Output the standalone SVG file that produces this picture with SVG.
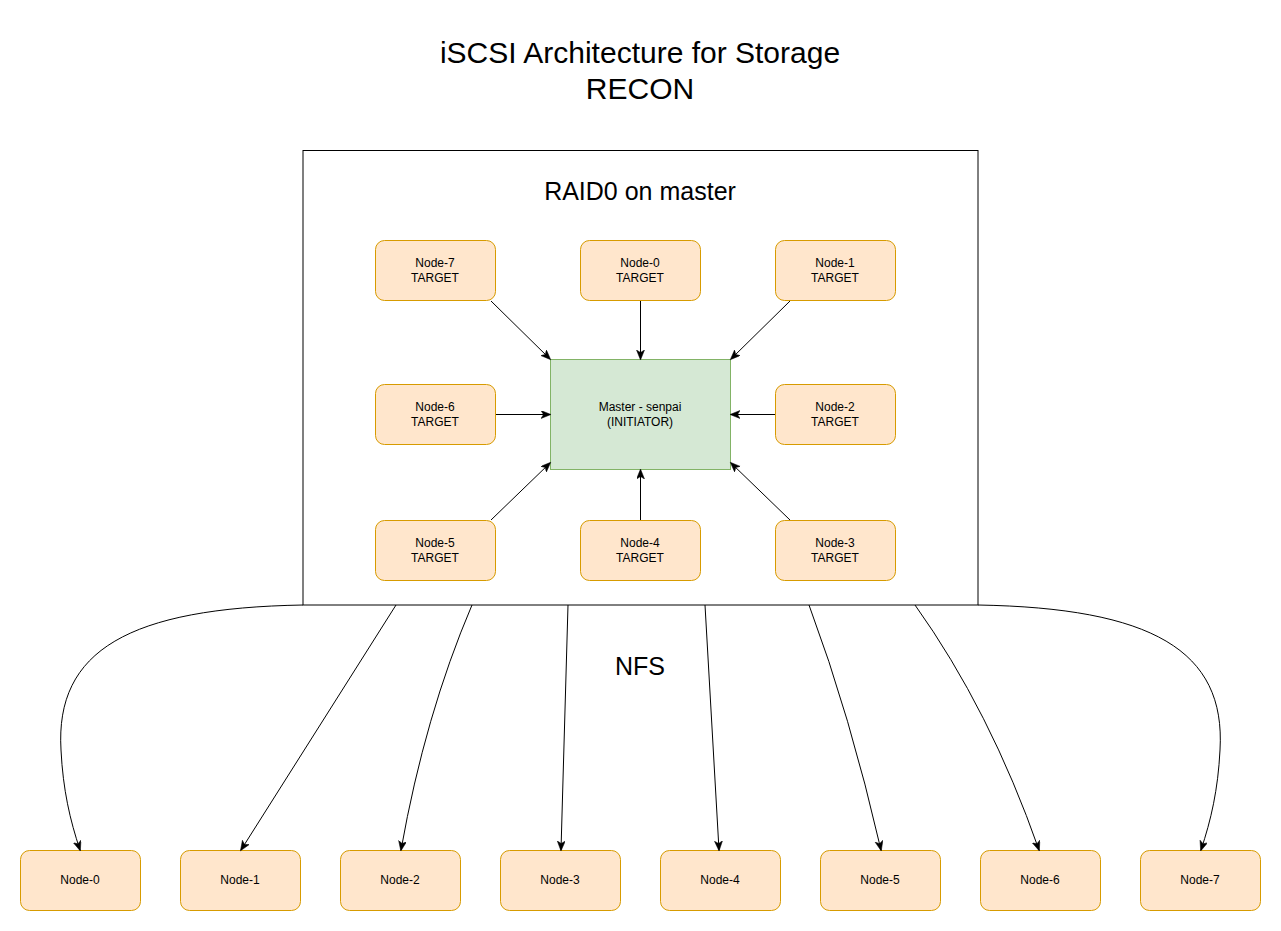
<svg xmlns="http://www.w3.org/2000/svg" width="1281" height="931" viewBox="0 0 1281 931">
<style>
.t{fill:#ffe6cc;stroke:#d79b00;stroke-width:1}
.m{fill:#d5e8d4;stroke:#82b366;stroke-width:1}
.box{fill:#fff;stroke:#000;stroke-width:1}
.lbl{font-family:"Liberation Sans",Arial,sans-serif;font-size:12px;fill:#000;text-anchor:middle}
.big{font-family:"Liberation Sans",Arial,sans-serif;fill:#000;text-anchor:middle}
.c{fill:none;stroke:#000;stroke-width:1;marker-end:url(#arr)}
</style>
<defs>
<marker id="arr" markerUnits="userSpaceOnUse" markerWidth="12" markerHeight="10" refX="9" refY="4" orient="auto">
<path d="M0,0 L10,4 L0,8 L2.5,4 Z" fill="#000" stroke="#000" stroke-width="0.5"/>
</marker>
</defs>
<rect width="1281" height="931" fill="#fff"/>
<g id="title">
<text class="big" x="640" y="63" font-size="30">iSCSI Architecture for Storage</text>
<text class="big" x="640" y="99" font-size="30">RECON</text>
</g>
<g id="raid0">
<rect class="box" x="303" y="150.5" width="675" height="454.5"/>
<text class="big" x="640" y="200" font-size="25">RAID0 on master</text>
</g>
<g id="nfs-label"><text class="big" x="640" y="675" font-size="25">NFS</text></g>
<g id="master"><rect class="m" x="550.5" y="359.5" width="180" height="110"/><text class="lbl" x="640" y="411">Master - senpai</text><text class="lbl" x="640" y="426">(INITIATOR)</text></g>
<g id="t7"><rect class="t" x="375.5" y="240.5" width="120" height="60" rx="9"/><text class="lbl" x="435" y="267">Node-7</text><text class="lbl" x="435" y="282">TARGET</text></g>
<g id="t0"><rect class="t" x="580.5" y="240.5" width="120" height="60" rx="9"/><text class="lbl" x="640" y="267">Node-0</text><text class="lbl" x="640" y="282">TARGET</text></g>
<g id="t1"><rect class="t" x="775.5" y="240.5" width="120" height="60" rx="9"/><text class="lbl" x="835" y="267">Node-1</text><text class="lbl" x="835" y="282">TARGET</text></g>
<g id="t6"><rect class="t" x="375.5" y="384.5" width="120" height="60" rx="9"/><text class="lbl" x="435" y="411">Node-6</text><text class="lbl" x="435" y="426">TARGET</text></g>
<g id="t2"><rect class="t" x="775.5" y="384.5" width="120" height="60" rx="9"/><text class="lbl" x="835" y="411">Node-2</text><text class="lbl" x="835" y="426">TARGET</text></g>
<g id="t5"><rect class="t" x="375.5" y="520.5" width="120" height="60" rx="9"/><text class="lbl" x="435" y="547">Node-5</text><text class="lbl" x="435" y="562">TARGET</text></g>
<g id="t4"><rect class="t" x="580.5" y="520.5" width="120" height="60" rx="9"/><text class="lbl" x="640" y="547">Node-4</text><text class="lbl" x="640" y="562">TARGET</text></g>
<g id="t3"><rect class="t" x="775.5" y="520.5" width="120" height="60" rx="9"/><text class="lbl" x="835" y="547">Node-3</text><text class="lbl" x="835" y="562">TARGET</text></g>
<g id="n0"><rect class="t" x="20.5" y="850.5" width="120" height="60" rx="9"/><text class="lbl" x="80" y="884">Node-0</text></g>
<g id="n1"><rect class="t" x="180.5" y="850.5" width="120" height="60" rx="9"/><text class="lbl" x="240" y="884">Node-1</text></g>
<g id="n2"><rect class="t" x="340.5" y="850.5" width="120" height="60" rx="9"/><text class="lbl" x="400" y="884">Node-2</text></g>
<g id="n3"><rect class="t" x="500.5" y="850.5" width="120" height="60" rx="9"/><text class="lbl" x="560" y="884">Node-3</text></g>
<g id="n4"><rect class="t" x="660.5" y="850.5" width="120" height="60" rx="9"/><text class="lbl" x="720" y="884">Node-4</text></g>
<g id="n5"><rect class="t" x="820.5" y="850.5" width="120" height="60" rx="9"/><text class="lbl" x="880" y="884">Node-5</text></g>
<g id="n6"><rect class="t" x="980.5" y="850.5" width="120" height="60" rx="9"/><text class="lbl" x="1040" y="884">Node-6</text></g>
<g id="n7"><rect class="t" x="1140.5" y="850.5" width="120" height="60" rx="9"/><text class="lbl" x="1200" y="884">Node-7</text></g>
<g id="connectors">
<path class="c" d="M491,301 L550,359"/>
<path class="c" d="M640.5,301 L640.5,359"/>
<path class="c" d="M790,301 L731,359"/>
<path class="c" d="M496,414.5 L550,414.5"/>
<path class="c" d="M775,414.5 L731,414.5"/>
<path class="c" d="M491,520 L550,463"/>
<path class="c" d="M640.5,520 L640.5,470"/>
<path class="c" d="M790,520 L731,463"/>
<path class="c" d="M303,605 C130,608 55,650 61,750 C63,790 70,820 80,850"/>
<path class="c" d="M396,605 L241,850"/>
<path class="c" d="M472,605 Q425,715 401,850"/>
<path class="c" d="M568,605 L561,850"/>
<path class="c" d="M705,605 L719,850"/>
<path class="c" d="M809,605 Q850,715 881,850"/>
<path class="c" d="M915,605 Q990,710 1039,850"/>
<path class="c" d="M978,605 C1151,608 1226,650 1220,750 C1218,790 1211,820 1201,850"/>
</g>
</svg>
